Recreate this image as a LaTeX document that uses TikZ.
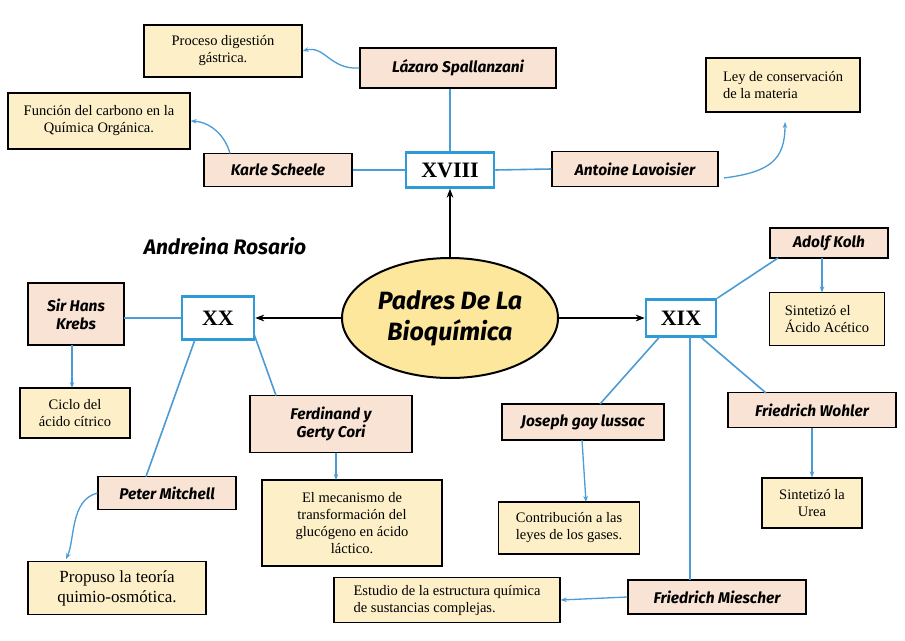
\documentclass[tikz,border=0pt]{standalone}
\usepackage{fontspec}
\setmainfont{Liberation Serif}
\newfontfamily\hand{Fira Sans}
\usetikzlibrary{shapes.geometric,arrows.meta}
\definecolor{lb}{HTML}{4A9BD6}
\definecolor{peach}{HTML}{F9E3D4}
\definecolor{cream}{HTML}{FDF0C8}
\definecolor{yel}{HTML}{FCE79C}
\definecolor{bb}{HTML}{2E9AD6}
\begin{document}
\begin{tikzpicture}[x=1pt,y=-1pt,
 nm/.style={draw=black,line width=1.2pt,fill=peach,font=\hand\bfseries\itshape\fontsize{15.5}{18}\selectfont,align=center,inner sep=0pt},
 info/.style={draw=black,line width=1.2pt,fill=cream,font=\fontsize{14.5}{17}\selectfont,align=center,inner sep=0pt},
 cent/.style={draw=bb,line width=2.5pt,fill=white,font=\bfseries\fontsize{22}{24}\selectfont,inner sep=0pt},
 ln/.style={lb,line width=1.6pt},
 ar/.style={lb,line width=1.3pt,-{Stealth[length=6pt]}},
 bar/.style={black,line width=2pt,-{Stealth[length=9pt]}}]
\fill[white] (0,0) rectangle (905,640);
\node[ellipse,draw=black,line width=2pt,fill=yel,minimum width=216pt,minimum height=120pt,font=\hand\bfseries\itshape\fontsize{25}{31}\selectfont,align=center] (c) at (450,318) {Padres De La\\Bioquímica};
\node[cent,minimum width=88pt,minimum height=35pt] (x18) at (450,170) {XVIII};
\node[cent,minimum width=72pt,minimum height=43pt] (x20) at (218,318) {XX};
\node[cent,minimum width=70pt,minimum height=37pt] (x19) at (681,318) {XIX};
\node[nm,minimum width=196pt,minimum height=40pt] (laz) at (458,68) {Lázaro Spallanzani};
\node[info,minimum width=158pt,minimum height=52pt] (pro) at (223,51) {Proceso digestión\\gástrica.};
\node[info,minimum width=182pt,minimum height=56pt] (fun) at (99,121) {Función del carbono en la\\Química Orgánica.};
\node[nm,minimum width=148pt,minimum height=33pt] (kar) at (278,170) {Karle Scheele};
\node[nm,minimum width=166pt,minimum height=35pt] (ant) at (635,169) {Antoine Lavoisier};
\node[info,minimum width=154pt,minimum height=54pt,align=left] (ley) at (783,85) {Ley de conservación\\de la materia};
\node[nm,minimum width=118pt,minimum height=30pt] (ado) at (829,243) {Adolf Kolh};
\node[info,minimum width=115pt,minimum height=53pt,align=left] (ace) at (827,319) {Sintetizó el\\Ácido Acético};
\node[nm,minimum width=168pt,minimum height=35pt] (woh) at (812,410) {Friedrich Wohler};
\node[info,minimum width=100pt,minimum height=50pt] (ure) at (812,503) {Sintetizó la\\Urea};
\node[nm,minimum width=162pt,minimum height=36pt] (jos) at (583,422) {Joseph gay lussac};
\node[info,minimum width=141pt,minimum height=52pt] (con) at (569,528) {Contribución a las\\leyes de los gases.};
\node[nm,minimum width=178pt,minimum height=34pt] (mie) at (717,597) {Friedrich Miescher};
\node[info,minimum width=226pt,minimum height=45pt,align=left] (est) at (447,600) {Estudio de la estructura química\\de sustancias complejas.};
\node[nm,minimum width=96pt,minimum height=62pt] (kre) at (76,314) {Sir Hans\\Krebs};
\node[info,minimum width=110pt,minimum height=50pt] (cic) at (75,413) {Ciclo del\\ácido cítrico};
\node[nm,minimum width=162pt,minimum height=57pt] (cor) at (331,424) {Ferdinand y\\Gerty Cori};
\node[info,minimum width=180pt,minimum height=86pt] (mec) at (352,523) {El mecanismo de\\transformación del\\glucógeno en ácido\\láctico.};
\node[nm,minimum width=138pt,minimum height=33pt] (pet) at (167,493) {Peter Mitchell};
\node[info,minimum width=178pt,minimum height=53pt,font=\fontsize{17}{20}\selectfont] (pq) at (117,588) {Propuso la teoría\\quimio-osmótica.};
\node[font=\hand\bfseries\itshape\fontsize{21}{24}\selectfont] (and) at (225,246) {Andreina Rosario};
% connectors
\draw[ln] (x18.north) -- (laz.south -| x18.north);
\draw[ln] (x18.west) -- (kar.east);
\draw[ln] (x18.east) -- (ant.west);
\draw[bar] (c.north) -- (x18.south);
\draw[bar] (c.west) -- (x20.east);
\draw[bar] (c.east) -- (x19.west);
\draw[ar] (laz.west) .. controls (330,70) and (325,45) .. (pro.east);
\draw[ar] (230,153.5) .. controls (225,135) and (210,122) .. (fun.east);
\coordinate (a1) at (724,178);
\draw[ar] (a1) .. controls (770,172) and (785,160) .. (785,122);
\draw[ar] (822,258) -- (822,292.5);
\draw[ln] (x19.north east) -- (778,258);
\draw[ln] (700,336.5) -- (766,393);
\draw[ln] (660,336.5) -- (600,404);
\draw[ln] (690,336.5) -- (690,580);
\draw[ar] (woh.south) -- (ure.north);
\draw[ar] (582,440) -- (586,502);
\draw[ar] (mie.west) -- (est.east);
\draw[ln] (124,318) -- (x20.west);
\draw[ar] (72,345) -- (72,388);
\draw[ln] (254,334) -- (276,395.5);
\draw[ln] (195,339.5) -- (146,476.5);
\draw[ar] (336,452.5) -- (336,480);
\draw[ar] (pet.west) .. controls (70,500) and (75,540) .. (66,559);
\end{tikzpicture}
\end{document}
